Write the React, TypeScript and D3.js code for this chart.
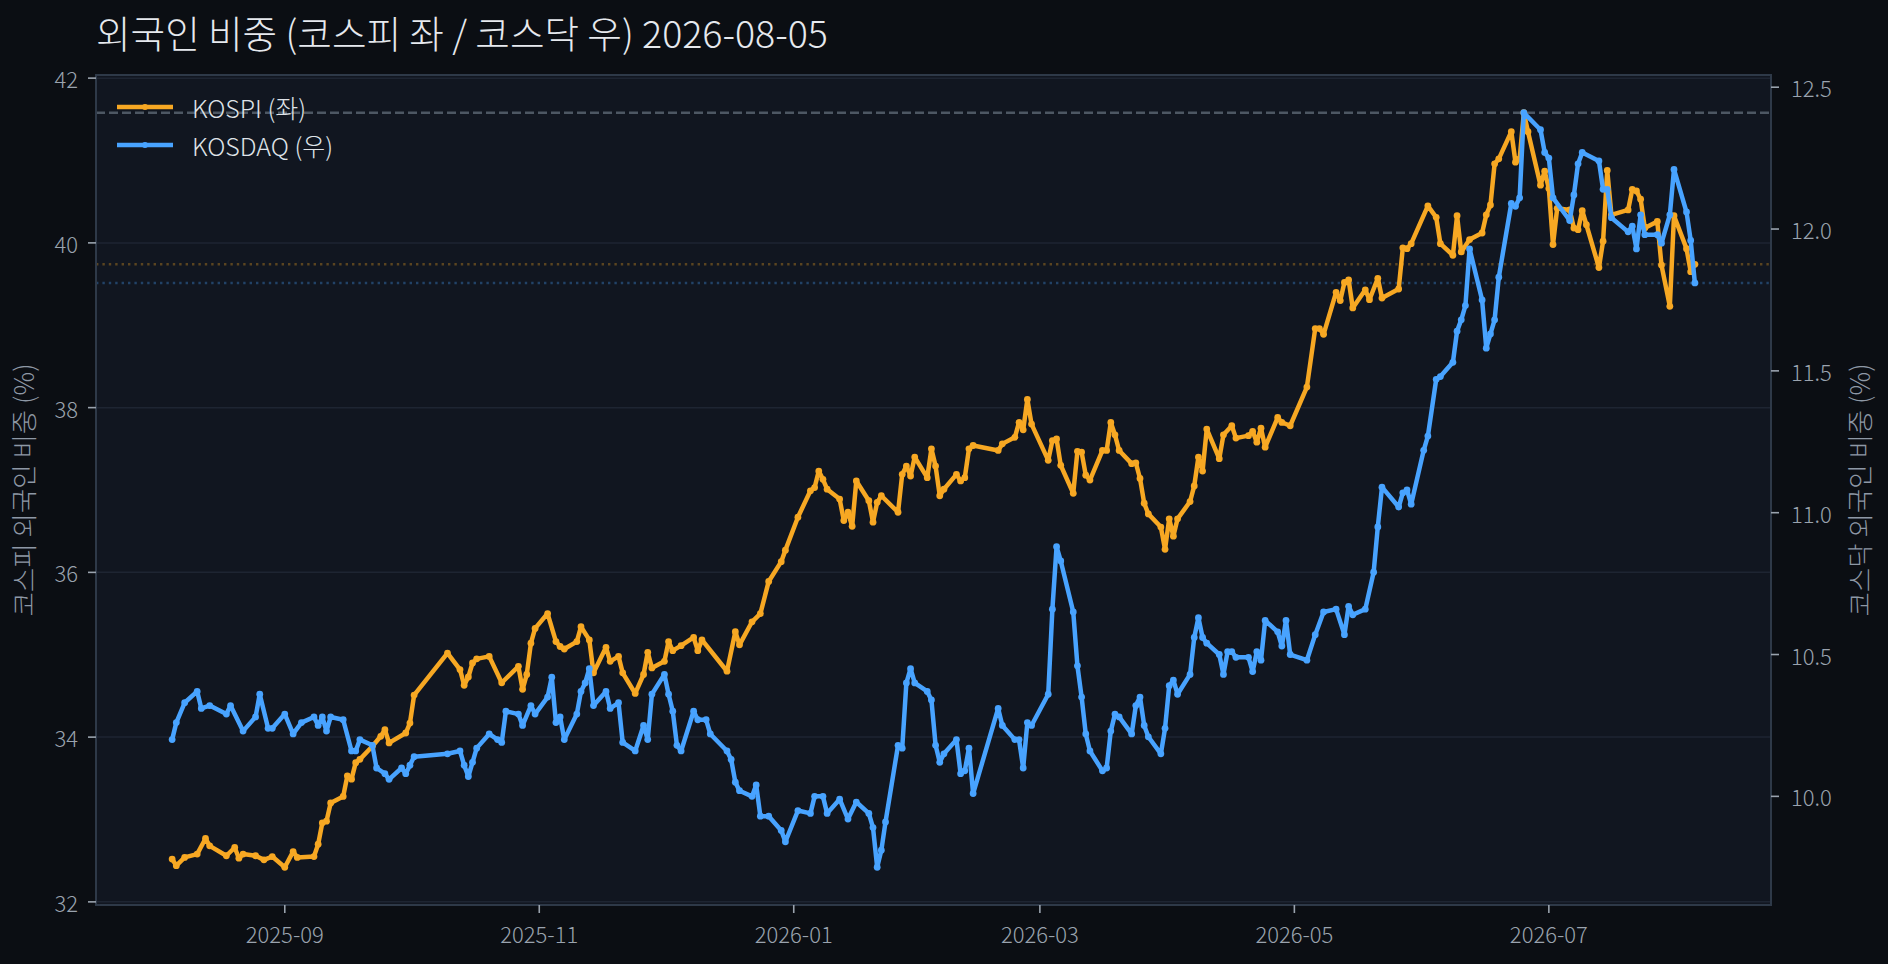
import * as d3 from 'd3';

const kospiDates = [
  '2025-08-05', '2025-08-06', '2025-08-08', '2025-08-11', '2025-08-13', '2025-08-14', '2025-08-18', '2025-08-20',
  '2025-08-21', '2025-08-22', '2025-08-25', '2025-08-27', '2025-08-29', '2025-09-01', '2025-09-03', '2025-09-04',
  '2025-09-08', '2025-09-09', '2025-09-10', '2025-09-11', '2025-09-12', '2025-09-15', '2025-09-16', '2025-09-17',
  '2025-09-18', '2025-09-19', '2025-09-22', '2025-09-24', '2025-09-25', '2025-09-26', '2025-09-30', '2025-10-01',
  '2025-10-02', '2025-10-10', '2025-10-13', '2025-10-14', '2025-10-15', '2025-10-16', '2025-10-17', '2025-10-20',
  '2025-10-23', '2025-10-27', '2025-10-28', '2025-10-29', '2025-10-30', '2025-10-31', '2025-11-03', '2025-11-05',
  '2025-11-06', '2025-11-07', '2025-11-10', '2025-11-11', '2025-11-13', '2025-11-14', '2025-11-17', '2025-11-18',
  '2025-11-20', '2025-11-21', '2025-11-24', '2025-11-26', '2025-11-27', '2025-11-28', '2025-12-01', '2025-12-02',
  '2025-12-03', '2025-12-05', '2025-12-08', '2025-12-09', '2025-12-10', '2025-12-16', '2025-12-18', '2025-12-19',
  '2025-12-22', '2025-12-24', '2025-12-26', '2025-12-29', '2025-12-30', '2026-01-02', '2026-01-05', '2026-01-06',
  '2026-01-07', '2026-01-08', '2026-01-09', '2026-01-12', '2026-01-13', '2026-01-14', '2026-01-15', '2026-01-16',
  '2026-01-19', '2026-01-20', '2026-01-21', '2026-01-22', '2026-01-26', '2026-01-27', '2026-01-28', '2026-01-29',
  '2026-01-30', '2026-02-02', '2026-02-03', '2026-02-04', '2026-02-05', '2026-02-06', '2026-02-09', '2026-02-10',
  '2026-02-11', '2026-02-12', '2026-02-13', '2026-02-19', '2026-02-20', '2026-02-23', '2026-02-24', '2026-02-25',
  '2026-02-26', '2026-02-27', '2026-03-03', '2026-03-04', '2026-03-05', '2026-03-06', '2026-03-09', '2026-03-10',
  '2026-03-11', '2026-03-12', '2026-03-13', '2026-03-16', '2026-03-17', '2026-03-18', '2026-03-19', '2026-03-20',
  '2026-03-23', '2026-03-24', '2026-03-25', '2026-03-26', '2026-03-27', '2026-03-30', '2026-03-31', '2026-04-01',
  '2026-04-02', '2026-04-03', '2026-04-06', '2026-04-07', '2026-04-08', '2026-04-09', '2026-04-10', '2026-04-13',
  '2026-04-14', '2026-04-16', '2026-04-17', '2026-04-20', '2026-04-21', '2026-04-22', '2026-04-23', '2026-04-24',
  '2026-04-27', '2026-04-28', '2026-04-30', '2026-05-04', '2026-05-06', '2026-05-07', '2026-05-08', '2026-05-11',
  '2026-05-12', '2026-05-13', '2026-05-14', '2026-05-15', '2026-05-18', '2026-05-19', '2026-05-21', '2026-05-22',
  '2026-05-26', '2026-05-27', '2026-05-28', '2026-05-29', '2026-06-02', '2026-06-04', '2026-06-05', '2026-06-08',
  '2026-06-09', '2026-06-10', '2026-06-12', '2026-06-15', '2026-06-16', '2026-06-17', '2026-06-18', '2026-06-19',
  '2026-06-22', '2026-06-23', '2026-06-24', '2026-06-25', '2026-06-26', '2026-06-29', '2026-06-30', '2026-07-01',
  '2026-07-02', '2026-07-03', '2026-07-06', '2026-07-07', '2026-07-08', '2026-07-09', '2026-07-10', '2026-07-13',
  '2026-07-14', '2026-07-15', '2026-07-16', '2026-07-20', '2026-07-21', '2026-07-22', '2026-07-23', '2026-07-24',
  '2026-07-27', '2026-07-28', '2026-07-30', '2026-07-31', '2026-08-03', '2026-08-04', '2026-08-05',
];

const kospiValues = [
  32.52, 32.44, 32.54, 32.58, 32.77, 32.68, 32.56, 32.66,
  32.53, 32.58, 32.56, 32.51, 32.55, 32.42, 32.61, 32.54,
  32.55, 32.70, 32.96, 32.98, 33.20, 33.28, 33.53, 33.49,
  33.69, 33.73, 33.89, 34.01, 34.09, 33.93, 34.05, 34.17,
  34.51, 35.02, 34.82, 34.63, 34.73, 34.90, 34.95, 34.98,
  34.66, 34.86, 34.58, 34.76, 35.14, 35.32, 35.50, 35.16,
  35.10, 35.07, 35.16, 35.34, 35.18, 34.78, 35.09, 34.92,
  34.98, 34.78, 34.53, 34.76, 35.03, 34.84, 34.92, 35.16,
  35.05, 35.11, 35.21, 35.05, 35.18, 34.80, 35.28, 35.12,
  35.40, 35.50, 35.89, 36.13, 36.27, 36.67, 36.99, 37.03,
  37.23, 37.13, 37.01, 36.89, 36.63, 36.73, 36.56, 37.11,
  36.87, 36.61, 36.85, 36.93, 36.73, 37.19, 37.29, 37.17,
  37.40, 37.15, 37.50, 37.29, 36.93, 37.01, 37.19, 37.11,
  37.15, 37.50, 37.54, 37.48, 37.56, 37.64, 37.82, 37.73,
  38.10, 37.80, 37.36, 37.60, 37.62, 37.30, 36.96, 37.47,
  37.46, 37.18, 37.12, 37.48, 37.48, 37.82, 37.67, 37.48,
  37.32, 37.33, 37.14, 36.84, 36.71, 36.55, 36.28, 36.65,
  36.44, 36.65, 36.86, 37.05, 37.40, 37.23, 37.74, 37.38,
  37.67, 37.78, 37.63, 37.66, 37.71, 37.58, 37.75, 37.52,
  37.88, 37.82, 37.78, 38.25, 38.96, 38.96, 38.89, 39.40,
  39.30, 39.52, 39.55, 39.21, 39.43, 39.31, 39.57, 39.33,
  39.44, 39.94, 39.93, 39.99, 40.45, 40.31, 39.99, 39.85,
  40.33, 39.89, 40.04, 40.12, 40.34, 40.46, 40.96, 41.02,
  41.35, 40.98, 41.02, 41.58, 41.35, 40.70, 40.87, 40.66,
  39.98, 40.42, 40.40, 40.18, 40.16, 40.39, 40.22, 39.70,
  40.02, 40.88, 40.34, 40.40, 40.65, 40.63, 40.53, 40.18,
  40.26, 39.73, 39.23, 40.33, 39.93, 39.65, 39.74,
];

const kosdaqDates = [
  '2025-08-05', '2025-08-06', '2025-08-08', '2025-08-11', '2025-08-12', '2025-08-14', '2025-08-18', '2025-08-19',
  '2025-08-22', '2025-08-25', '2025-08-26', '2025-08-28', '2025-08-29', '2025-09-01', '2025-09-03', '2025-09-05',
  '2025-09-08', '2025-09-09', '2025-09-10', '2025-09-11', '2025-09-12', '2025-09-15', '2025-09-17', '2025-09-18',
  '2025-09-19', '2025-09-22', '2025-09-23', '2025-09-25', '2025-09-26', '2025-09-29', '2025-09-30', '2025-10-01',
  '2025-10-02', '2025-10-10', '2025-10-13', '2025-10-14', '2025-10-15', '2025-10-16', '2025-10-17', '2025-10-20',
  '2025-10-22', '2025-10-23', '2025-10-24', '2025-10-27', '2025-10-28', '2025-10-30', '2025-10-31', '2025-11-03',
  '2025-11-04', '2025-11-05', '2025-11-06', '2025-11-07', '2025-11-10', '2025-11-11', '2025-11-12', '2025-11-13',
  '2025-11-14', '2025-11-17', '2025-11-18', '2025-11-20', '2025-11-21', '2025-11-24', '2025-11-26', '2025-11-27',
  '2025-11-28', '2025-12-01', '2025-12-02', '2025-12-03', '2025-12-04', '2025-12-05', '2025-12-08', '2025-12-09',
  '2025-12-11', '2025-12-12', '2025-12-16', '2025-12-17', '2025-12-18', '2025-12-19', '2025-12-22', '2025-12-23',
  '2025-12-24', '2025-12-26', '2025-12-29', '2025-12-30', '2026-01-02', '2026-01-05', '2026-01-06', '2026-01-08',
  '2026-01-09', '2026-01-12', '2026-01-14', '2026-01-16', '2026-01-19', '2026-01-20', '2026-01-21', '2026-01-22',
  '2026-01-23', '2026-01-26', '2026-01-27', '2026-01-28', '2026-01-29', '2026-01-30', '2026-02-02', '2026-02-03',
  '2026-02-04', '2026-02-05', '2026-02-06', '2026-02-09', '2026-02-10', '2026-02-11', '2026-02-12', '2026-02-13',
  '2026-02-19', '2026-02-20', '2026-02-23', '2026-02-24', '2026-02-25', '2026-02-26', '2026-02-27', '2026-03-03',
  '2026-03-04', '2026-03-05', '2026-03-06', '2026-03-09', '2026-03-10', '2026-03-11', '2026-03-12', '2026-03-13',
  '2026-03-16', '2026-03-17', '2026-03-18', '2026-03-19', '2026-03-20', '2026-03-23', '2026-03-24', '2026-03-25',
  '2026-03-26', '2026-03-27', '2026-03-30', '2026-03-31', '2026-04-01', '2026-04-02', '2026-04-03', '2026-04-06',
  '2026-04-07', '2026-04-08', '2026-04-09', '2026-04-10', '2026-04-13', '2026-04-14', '2026-04-15', '2026-04-16',
  '2026-04-17', '2026-04-20', '2026-04-21', '2026-04-22', '2026-04-23', '2026-04-24', '2026-04-27', '2026-04-28',
  '2026-04-29', '2026-04-30', '2026-05-04', '2026-05-06', '2026-05-08', '2026-05-11', '2026-05-13', '2026-05-14',
  '2026-05-15', '2026-05-18', '2026-05-20', '2026-05-21', '2026-05-22', '2026-05-26', '2026-05-27', '2026-05-28',
  '2026-05-29', '2026-06-01', '2026-06-02', '2026-06-04', '2026-06-05', '2026-06-08', '2026-06-09', '2026-06-10',
  '2026-06-11', '2026-06-12', '2026-06-15', '2026-06-16', '2026-06-17', '2026-06-18', '2026-06-19', '2026-06-22',
  '2026-06-23', '2026-06-24', '2026-06-25', '2026-06-29', '2026-06-30', '2026-07-01', '2026-07-02', '2026-07-06',
  '2026-07-07', '2026-07-08', '2026-07-09', '2026-07-13', '2026-07-14', '2026-07-15', '2026-07-16', '2026-07-20',
  '2026-07-21', '2026-07-22', '2026-07-23', '2026-07-24', '2026-07-27', '2026-07-28', '2026-07-30', '2026-07-31',
  '2026-08-03', '2026-08-04', '2026-08-05',
];

const kosdaqValues = [
  10.20, 10.26, 10.33, 10.37, 10.31, 10.32, 10.29, 10.32,
  10.23, 10.28, 10.36, 10.24, 10.24, 10.29, 10.22, 10.26,
  10.28, 10.25, 10.28, 10.23, 10.28, 10.27, 10.16, 10.16,
  10.20, 10.18, 10.10, 10.08, 10.06, 10.10, 10.08, 10.11,
  10.14, 10.15, 10.16, 10.11, 10.07, 10.12, 10.17, 10.22,
  10.20, 10.19, 10.30, 10.29, 10.25, 10.32, 10.29, 10.35,
  10.42, 10.26, 10.28, 10.20, 10.29, 10.37, 10.40, 10.45,
  10.32, 10.37, 10.31, 10.33, 10.19, 10.16, 10.25, 10.20,
  10.36, 10.43, 10.36, 10.30, 10.18, 10.16, 10.30, 10.27,
  10.27, 10.22, 10.16, 10.13, 10.05, 10.02, 10.00, 10.04,
  9.93, 9.93, 9.88, 9.84, 9.95, 9.94, 10.00, 10.00,
  9.94, 9.99, 9.92, 9.98, 9.94, 9.89, 9.75, 9.81,
  9.91, 10.18, 10.17, 10.40, 10.45, 10.40, 10.37, 10.34,
  10.18, 10.12, 10.15, 10.20, 10.08, 10.09, 10.17, 10.01,
  10.31, 10.25, 10.20, 10.20, 10.10, 10.26, 10.25, 10.36,
  10.66, 10.88, 10.83, 10.65, 10.46, 10.35, 10.22, 10.16,
  10.09, 10.10, 10.23, 10.29, 10.28, 10.22, 10.32, 10.35,
  10.25, 10.21, 10.15, 10.24, 10.39, 10.41, 10.36, 10.43,
  10.56, 10.63, 10.56, 10.54, 10.50, 10.43, 10.51, 10.51,
  10.49, 10.49, 10.44, 10.51, 10.48, 10.62, 10.58, 10.53,
  10.62, 10.50, 10.48, 10.57, 10.65, 10.66, 10.57, 10.67,
  10.64, 10.66, 10.79, 10.95, 11.09, 11.02, 11.07, 11.08,
  11.03, 11.22, 11.27, 11.47, 11.48, 11.53, 11.64, 11.68,
  11.73, 11.93, 11.75, 11.58, 11.63, 11.68, 11.83, 12.09,
  12.08, 12.11, 12.41, 12.35, 12.27, 12.25, 12.11, 12.03,
  12.12, 12.23, 12.27, 12.24, 12.14, 12.14, 12.04, 11.99,
  12.01, 11.93, 12.05, 11.98, 11.98, 11.95, 12.05, 12.21,
  12.06, 11.96, 11.81,
];

const xTickLabels = ['2025-09', '2025-11', '2026-01', '2026-03', '2026-05', '2026-07'];
const leftTicks = [32, 34, 36, 38, 40, 42];
const rightTicks = [10.0, 10.5, 11.0, 11.5, 12.0, 12.5];

const W = 1888;
const H = 964;
const margin = { top: 75, right: 117, bottom: 59, left: 96 };
const FONT = '"Noto Sans CJK KR", "Noto Sans", sans-serif';
const ORANGE = '#f7a823';
const BLUE = '#48a3ff';

const parse = d3.timeParse('%Y-%m-%d');
const parseMonth = d3.timeParse('%Y-%m');

type Pt = [Date, number];

// matplotlib style 5% padding
function padded(lo: number, hi: number): [number, number] {
  const p = (hi - lo) * 0.05;
  return [lo - p, hi + p];
}

export default function App() {
  const kospi: Pt[] = kospiDates.map((d, i) => [parse(d) as Date, kospiValues[i]]);
  const kosdaq: Pt[] = kosdaqDates.map((d, i) => [parse(d) as Date, kosdaqValues[i]]);

  const x0 = margin.left;
  const x1 = W - margin.right;
  const y0 = margin.top;
  const y1 = H - margin.bottom;

  const t0 = +kospi[0][0];
  const t1 = +kospi[kospi.length - 1][0];
  const tp = (t1 - t0) * 0.05;
  const x = d3.scaleTime().domain([new Date(t0 - tp), new Date(t1 + tp)]).range([x0, x1]);

  const [kMin, kMax] = d3.extent(kospiValues) as [number, number];
  const [qMin, qMax] = d3.extent(kosdaqValues) as [number, number];
  const yL = d3.scaleLinear().domain(padded(kMin, kMax)).range([y1, y0]);
  const yR = d3.scaleLinear().domain(padded(qMin, qMax)).range([y1, y0]);

  const lineL = d3.line<Pt>().x(d => x(d[0])).y(d => yL(d[1]));
  const lineR = d3.line<Pt>().x(d => x(d[0])).y(d => yR(d[1]));

  const kLast = kospiValues[kospiValues.length - 1];
  const qLast = kosdaqValues[kosdaqValues.length - 1];

  const tickColor = '#9aa3ae';
  const midY = (y0 + y1) / 2;

  return (
    <svg width={W} height={H} style={{ position: 'absolute', left: 0, top: 0, display: 'block' }}
      fontFamily={FONT} fontWeight={300}>
      <rect x={0} y={0} width={W} height={H} fill="#0b0e13" />
      <rect x={x0} y={y0} width={x1 - x0} height={y1 - y0} fill="#111620" />

      {/* grid on left axis */}
      {leftTicks.map(t => (
        <line key={'g' + t} x1={x0} x2={x1} y1={yL(t)} y2={yL(t)} stroke="#1e2532" strokeWidth={1.5} />
      ))}

      {/* reference lines */}
      <line x1={x0} x2={x1} y1={yL(kMax)} y2={yL(kMax)} stroke="#4d5763" strokeWidth={2.4} strokeDasharray="9 4" />
      <line x1={x0} x2={x1} y1={yL(kLast)} y2={yL(kLast)} stroke={ORANGE} strokeOpacity={0.32}
        strokeWidth={2.4} strokeDasharray="2.4 4" />
      <line x1={x0} x2={x1} y1={yR(qLast)} y2={yR(qLast)} stroke={BLUE} strokeOpacity={0.32}
        strokeWidth={2.4} strokeDasharray="2.4 4" />

      {/* series */}
      <path d={lineL(kospi) || ''} fill="none" stroke={ORANGE} strokeWidth={4.5} strokeLinejoin="round" />
      {kospi.map((d, i) => (
        <circle key={'k' + i} cx={x(d[0])} cy={yL(d[1])} r={3.4} fill={ORANGE} />
      ))}
      <path d={lineR(kosdaq) || ''} fill="none" stroke={BLUE} strokeWidth={4.5} strokeLinejoin="round" />
      {kosdaq.map((d, i) => (
        <circle key={'q' + i} cx={x(d[0])} cy={yR(d[1])} r={3.4} fill={BLUE} />
      ))}

      {/* frame */}
      <rect x={x0} y={y0} width={x1 - x0} height={y1 - y0} fill="none" stroke="#2e3948" strokeWidth={2} />

      {/* left axis */}
      {leftTicks.map(t => (
        <g key={'l' + t}>
          <line x1={x0 - 8} x2={x0} y1={yL(t)} y2={yL(t)} stroke={tickColor} strokeWidth={1.6} />
          <text x={x0 - 18} y={yL(t)} textAnchor="end" dominantBaseline="central" fontSize={22} fill={tickColor}>
            {t}
          </text>
        </g>
      ))}

      {/* right axis */}
      {rightTicks.map(t => (
        <g key={'r' + t}>
          <line x1={x1} x2={x1 + 8} y1={yR(t)} y2={yR(t)} stroke={tickColor} strokeWidth={1.6} />
          <text x={x1 + 20} y={yR(t)} textAnchor="start" dominantBaseline="central" fontSize={22} fill={tickColor}>
            {t.toFixed(1)}
          </text>
        </g>
      ))}

      {/* bottom axis */}
      {xTickLabels.map(s => {
        const tx = x(parseMonth(s) as Date);
        return (
          <g key={s}>
            <line x1={tx} x2={tx} y1={y1} y2={y1 + 8} stroke={tickColor} strokeWidth={1.6} />
            <text x={tx} y={y1 + 38} textAnchor="middle" fontSize={22} fill={tickColor}>{s}</text>
          </g>
        );
      })}

      {/* axis titles */}
      <text transform={`translate(22,${midY}) rotate(-90)`} textAnchor="middle" dominantBaseline="central"
        fontSize={26.5} fill="#8e98a5">코스피 외국인 비중 (%)</text>
      <text transform={`translate(1858,${midY}) rotate(-90)`} textAnchor="middle" dominantBaseline="central"
        fontSize={26.5} fill="#8e98a5">코스닥 외국인 비중 (%)</text>

      {/* title */}
      <text x={96} y={48} fontSize={37.6} fill="#e6e9ee">외국인 비중 (코스피 좌 / 코스닥 우) 2026-08-05</text>

      {/* legend */}
      <g>
        <line x1={117} x2={173} y1={107} y2={107} stroke={ORANGE} strokeWidth={4.5} />
        <circle cx={145} cy={107} r={3} fill={ORANGE} />
        <text x={192} y={107} dominantBaseline="central" fontSize={25} fill="#dfe3e8">KOSPI (좌)</text>
        <line x1={117} x2={173} y1={145} y2={145} stroke={BLUE} strokeWidth={4.5} />
        <circle cx={145} cy={145} r={3} fill={BLUE} />
        <text x={192} y={145} dominantBaseline="central" fontSize={25} fill="#dfe3e8">KOSDAQ (우)</text>
      </g>
    </svg>
  );
}
